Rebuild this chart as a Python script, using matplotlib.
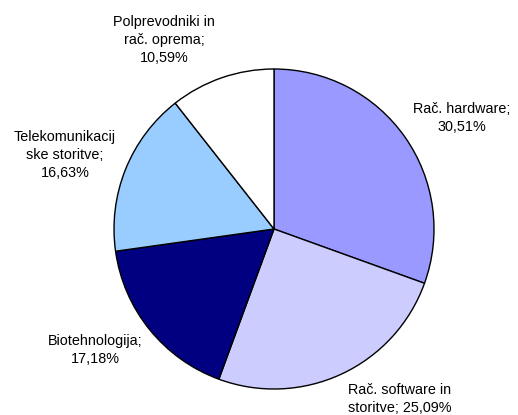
import matplotlib
matplotlib.use("Agg")
import matplotlib.pyplot as plt

categories = ["Rač. hardware", "Rač. software in storitve", "Biotehnologija",
              "Telekomunikacijske storitve", "Polprevodniki in rač. oprema"]
values = [30.51, 25.09, 17.18, 16.63, 10.59]
label_texts = ["Rač. hardware;\n30,51%", "Rač. software in\nstoritve; 25,09%",
               "Biotehnologija;\n17,18%", "Telekomunikacij\nske storitve;\n16,63%",
               "Polprevodniki in\nrač. oprema;\n10,59%"]
colors = ["#9999FF", "#CCCCFF", "#000080", "#99CCFF", "#FFFFFF"]
label_pos = [(462, 118), (400, 399), (95, 350), (65, 155), (164, 40)]

plt.rcParams['font.family'] = ['Liberation Sans', 'DejaVu Sans']

W, H = 518, 415
fig = plt.figure(figsize=(W / 100, H / 100), dpi=100)
ax = fig.add_axes([0, 0, 1, 1])

ax.pie(values, colors=colors, startangle=-90, counterclock=True,
       center=(274, 229), radius=160,
       wedgeprops=dict(edgecolor='black', linewidth=1.0))

for txt, (x, y) in zip(label_texts, label_pos):
    ax.text(x, y, txt, ha='center', va='center', fontsize=10.4,
            linespacing=1.4, color='black')

ax.set_xlim(0, W)
ax.set_ylim(H, 0)
ax.set_aspect('equal')
ax.axis('off')
fig.savefig("out.png", dpi=100)
